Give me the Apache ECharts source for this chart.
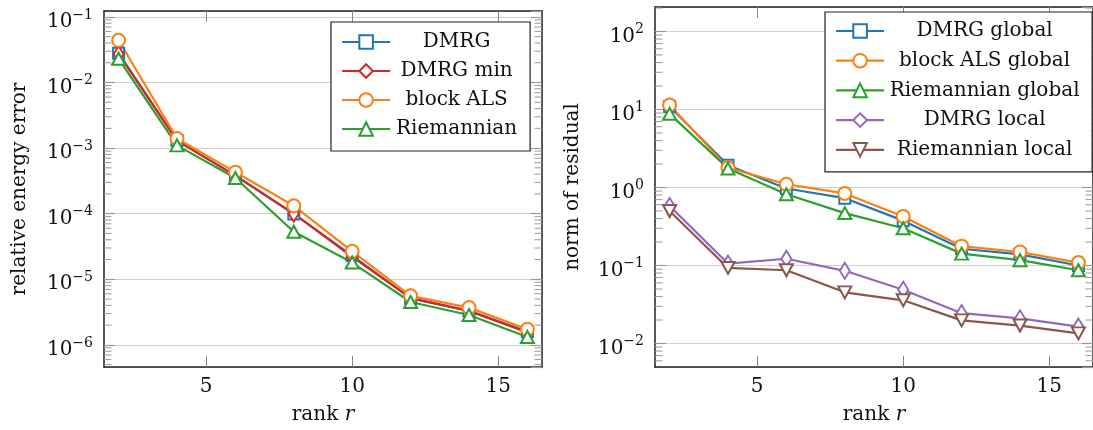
<!DOCTYPE html>
<html>
<head>
<meta charset="utf-8">
<script src="https://cdn.jsdelivr.net/npm/echarts@6/dist/echarts.min.js"></script>
<style>
  html, body { margin: 0; padding: 0; background: #fff; }
  #main { width: 1093px; height: 430px; }
</style>
</head>
<body>
<div id="main"></div>
<script>
// ranks on the x axis
var ranks = [2, 4, 6, 8, 10, 12, 14, 16];

// left panel: relative energy error
var dmrg       = [2.8e-2, 1.3e-3, 3.8e-4, 9.9e-5, 2.3e-5, 5.1e-6, 3.3e-6, 1.6e-6];
var dmrgMin    = [2.7e-2, 1.3e-3, 3.8e-4, 1.0e-4, 2.2e-5, 5.2e-6, 3.3e-6, 1.55e-6];
var blockAls   = [4.4e-2, 1.4e-3, 4.3e-4, 1.32e-4, 2.67e-5, 5.6e-6, 3.7e-6, 1.73e-6];
var riemannian = [2.3e-2, 1.1e-3, 3.5e-4, 5.3e-5, 1.8e-5, 4.5e-6, 2.85e-6, 1.32e-6];

// right panel: norm of residual
var dmrgGlobal = [10.9, 1.93, 0.97, 0.73, 0.376, 0.164, 0.139, 0.10];
var alsGlobal  = [11.4, 1.79, 1.10, 0.84, 0.426, 0.177, 0.149, 0.109];
var riemGlobal = [8.8, 1.75, 0.82, 0.47, 0.30, 0.142, 0.117, 0.087];
var dmrgLocal  = [0.58, 0.106, 0.122, 0.0855, 0.049, 0.0245, 0.021, 0.0165];
var riemLocal  = [0.50, 0.093, 0.087, 0.0453, 0.0358, 0.0198, 0.017, 0.0135];

// axis ticks
var xTicks = [5, 10, 15];
var minorMantissas = [2, 3, 4, 5, 6, 7, 8, 9];
var leftDecades = [1e-7, 1e-6, 1e-5, 1e-4, 1e-3, 1e-2, 1e-1];
var rightDecades = [1e-3, 1e-2, 1e-1, 1, 10, 100];
var leftRange = [4.6e-7, 0.123];
var rightRange = [0.005, 206];
var xRange = [1.5, 16.5];

var FONT = 'DejaVu Serif';
var C = {
  blue: '#1f77b4', orange: '#ff7f0e', green: '#2ca02c',
  red: '#d62728', purple: '#9467bd', brown: '#8c564b'
};

function pairs(ys) {
  return ranks.map(function (r, i) { return [r, ys[i]]; });
}

function minorList(decades, range) {
  var out = [];
  decades.forEach(function (d) {
    minorMantissas.forEach(function (m) {
      var v = m * d;
      if (v > range[0] && v < range[1]) out.push([xRange[0], v]);
    });
  });
  return out;
}

function supLabel(value) {
  var e = Math.round(Math.log(value) / Math.LN10);
  return '{b|10}{s|' + String(e).replace('-', '\u2212') + '}';
}

var tickRich = {
  b: { fontFamily: FONT, fontSize: 20, color: '#111', lineHeight: 24, verticalAlign: 'bottom' },
  s: { fontFamily: FONT, fontSize: 14, color: '#111', lineHeight: 14, verticalAlign: 'top' }
};

var nameRich = {
  a: { fontFamily: FONT, fontSize: 20, color: '#111' },
  i: { fontFamily: FONT, fontSize: 20, color: '#111', fontStyle: 'italic' }
};

function xAxisPair(gridIndex) {
  return [{
    type: 'value', gridIndex: gridIndex, position: 'bottom',
    min: xRange[0], max: xRange[1],
    name: '{a|rank }{i|r}', nameLocation: 'middle', nameGap: 38,
    nameTextStyle: { rich: nameRich },
    axisLine: { show: true, onZero: false, lineStyle: { color: '#222', width: 1.5 } },
    axisTick: { show: true, inside: true, length: 11, customValues: xTicks, lineStyle: { color: '#888', width: 1 } },
    axisLabel: { show: true, customValues: xTicks, margin: 10, fontFamily: FONT, fontSize: 20, color: '#111' },
    splitLine: { show: false }
  }, {
    type: 'value', gridIndex: gridIndex, position: 'top',
    min: xRange[0], max: xRange[1],
    axisLine: { show: true, onZero: false, lineStyle: { color: '#222', width: 1.5 } },
    axisTick: { show: true, inside: true, length: 11, customValues: xTicks, lineStyle: { color: '#888', width: 1 } },
    axisLabel: { show: false },
    splitLine: { show: false }
  }];
}

function yAxisPair(gridIndex, range, name, nameGap) {
  return [{
    type: 'log', gridIndex: gridIndex, position: 'left',
    min: range[0], max: range[1],
    name: name, nameLocation: 'middle', nameGap: nameGap,
    nameTextStyle: { fontFamily: FONT, fontSize: 20, color: '#111' },
    axisLine: { show: true, onZero: false, lineStyle: { color: '#222', width: 1.5 } },
    axisTick: { show: true, inside: true, length: 11, lineStyle: { color: '#999', width: 1.2 } },
    axisLabel: {
      show: true, margin: 11, showMinLabel: false, showMaxLabel: false,
      formatter: supLabel, rich: tickRich, padding: [6, 0, 0, 0]
    },
    splitLine: { show: true, lineStyle: { color: '#d0d0d0', width: 1.2 } }
  }, {
    type: 'log', gridIndex: gridIndex, position: 'right',
    min: range[0], max: range[1],
    axisLine: { show: true, onZero: false, lineStyle: { color: '#222', width: 1.5 } },
    axisTick: { show: true, inside: true, length: 11, lineStyle: { color: '#999', width: 1.2 } },
    axisLabel: { show: false },
    splitLine: { show: false }
  }];
}

function minorTicks(xIdx, yIdx, data) {
  return {
    type: 'custom', xAxisIndex: xIdx, yAxisIndex: yIdx, silent: true, z: 1,
    data: data,
    renderItem: function (params, api) {
      var cs = params.coordSys;
      var py = api.coord([api.value(0), api.value(1)])[1];
      var st = { stroke: '#999', lineWidth: 1 };
      return {
        type: 'group',
        children: [
          { type: 'line', shape: { x1: cs.x, y1: py, x2: cs.x + 7.5, y2: py }, style: st },
          { type: 'line', shape: { x1: cs.x + cs.width - 7.5, y1: py, x2: cs.x + cs.width, y2: py }, style: st }
        ]
      };
    }
  };
}

function lineSeries(name, xIdx, yIdx, data, color, symbol, size) {
  return {
    name: name, type: 'line', xAxisIndex: xIdx, yAxisIndex: yIdx,
    data: pairs(data), color: color,
    symbol: symbol, symbolSize: size, showAllSymbol: true,
    lineStyle: { color: color, width: 2.2 },
    itemStyle: { color: color, borderColor: color, borderWidth: 2 },
    z: 3
  };
}

var downTri = 'emptyPath://M0,0L2,0L1,1.732Z';

function legendBox(names, left, top, textWidth, gap, pad) {
  return {
    orient: 'vertical', left: left, top: top, data: names,
    itemWidth: 48, itemHeight: 17, itemGap: gap,
    padding: pad,
    backgroundColor: '#fff', borderColor: '#222', borderWidth: 1.2, borderRadius: 0,
    lineStyle: { width: 2.2 },
    itemStyle: { borderWidth: 2 },
    formatter: function (n) { return '{c|' + n + '}'; },
    textStyle: {
      rich: { c: { width: textWidth, align: 'center', fontFamily: FONT, fontSize: 20, color: '#111', lineHeight: 20 } }
    },
    selectedMode: false
  };
}

var chart = echarts.init(document.getElementById('main'));
var xs = xAxisPair(0).concat(xAxisPair(1));
var ys = yAxisPair(0, leftRange, 'relative energy error', 74).concat(yAxisPair(1, rightRange, 'norm of residual', 72));

chart.setOption({
  animation: false,
  backgroundColor: '#fff',
  grid: [
    { left: 104, top: 11, width: 438, height: 359 },
    { left: 655, top: 7, width: 440, height: 363 }
  ],
  xAxis: xs,
  yAxis: ys,
  legend: [
    legendBox(['DMRG', 'DMRG min', 'block ALS', 'Riemannian'], 331, 22, 123, 9, [10, 12, 12, 10]),
    legendBox(['DMRG global', 'block ALS global', 'Riemannian global', 'DMRG local', 'Riemannian local'], 825, 12, 191, 9.7, [9, 12, 12, 10])
  ],
  series: [
    minorTicks(0, 0, minorList(leftDecades, leftRange)),
    minorTicks(2, 2, minorList(rightDecades, rightRange)),
    lineSeries('DMRG', 0, 0, dmrg, C.blue, 'emptyRect', 11),
    lineSeries('DMRG min', 0, 0, dmrgMin, C.red, 'emptyDiamond', [10, 16]),
    lineSeries('block ALS', 0, 0, blockAls, C.orange, 'emptyCircle', 13),
    lineSeries('Riemannian', 0, 0, riemannian, C.green, 'emptyTriangle', [13, 12]),
    lineSeries('DMRG global', 2, 2, dmrgGlobal, C.blue, 'emptyRect', 11),
    lineSeries('block ALS global', 2, 2, alsGlobal, C.orange, 'emptyCircle', 13),
    lineSeries('Riemannian global', 2, 2, riemGlobal, C.green, 'emptyTriangle', [13, 12]),
    lineSeries('DMRG local', 2, 2, dmrgLocal, C.purple, 'emptyDiamond', [10, 16]),
    lineSeries('Riemannian local', 2, 2, riemLocal, C.brown, downTri, [13, 12])
  ]
});
</script>
</body>
</html>
